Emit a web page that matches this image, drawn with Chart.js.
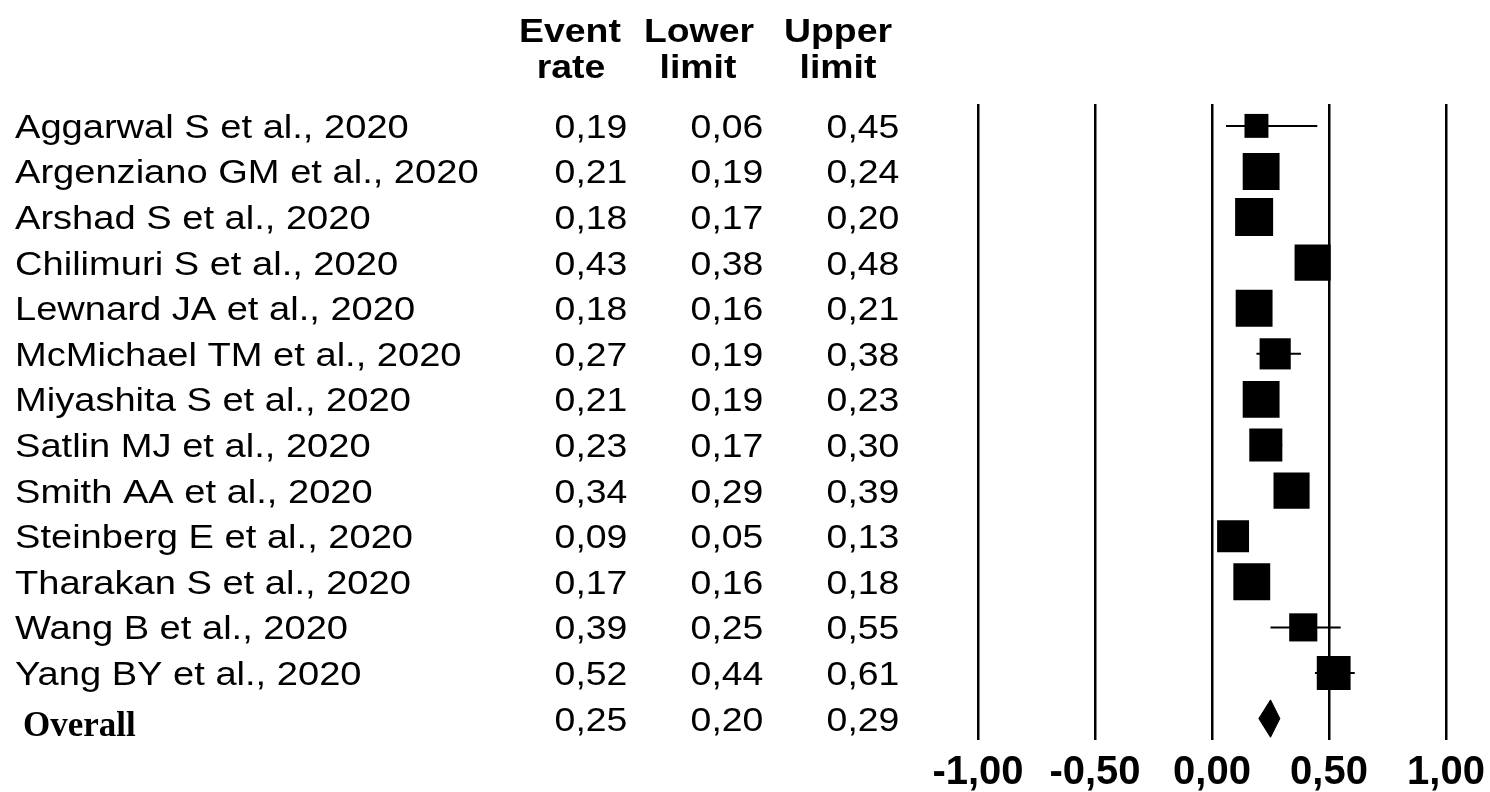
<!DOCTYPE html>
<html>
<head>
<meta charset="utf-8">
<script src="https://cdn.jsdelivr.net/npm/chart.js@4.4.1/dist/chart.umd.min.js"></script>
<style>
  html, body { margin: 0; padding: 0; background: #fff; }
  #wrap { width: 1490px; height: 792px; position: relative; }
</style>
</head>
<body>
<div id="wrap"><canvas id="forest" width="1490" height="792"></canvas></div>
<script>
// studies, in the order of the table
const studies = [
  'Aggarwal S et al., 2020',
  'Argenziano GM et al., 2020',
  'Arshad S et al., 2020',
  'Chilimuri S et al., 2020',
  'Lewnard JA et al., 2020',
  'McMichael TM et al., 2020',
  'Miyashita S et al., 2020',
  'Satlin MJ et al., 2020',
  'Smith AA et al., 2020',
  'Steinberg E et al., 2020',
  'Tharakan S et al., 2020',
  'Wang B et al., 2020',
  'Yang BY et al., 2020'
];
const eventRate  = [0.19, 0.21, 0.18, 0.43, 0.18, 0.27, 0.21, 0.23, 0.34, 0.09, 0.17, 0.39, 0.52];
const lowerLimit = [0.06, 0.19, 0.17, 0.38, 0.16, 0.19, 0.19, 0.17, 0.29, 0.05, 0.16, 0.25, 0.44];
const upperLimit = [0.45, 0.24, 0.20, 0.48, 0.21, 0.38, 0.23, 0.30, 0.39, 0.13, 0.18, 0.55, 0.61];
// relative study weight (box size)
const relWeight  = [0.63, 0.97, 1.00, 0.95, 0.97, 0.82, 0.97, 0.87, 0.95, 0.84, 0.97, 0.74, 0.89];

const overall = { label: 'Overall', rate: 0.25, lower: 0.20, upper: 0.29 };
const xTicks = [-1, -0.5, 0, 0.5, 1];

const fmt = v => v.toFixed(2).replace('.', ',');
const overallRow = studies.length;

// CI whiskers, one little line per study
const ciSets = studies.map((s, i) => ({
  data: [{ x: lowerLimit[i], y: i }, { x: upperLimit[i], y: i }],
  showLine: true,
  borderColor: '#000',
  borderWidth: 2,
  pointRadius: 0
}));

const DIAMOND_H = 0.41;

// text columns drawn next to the plot
const tablePlugin = {
  id: 'table',
  afterDraw(chart) {
    const ctx = chart.ctx;
    const y = chart.scales.y;
    const txt = (s, x, yy, font, align, sx) => {
      ctx.save();
      ctx.font = font;
      ctx.fillStyle = '#000';
      ctx.textAlign = align;
      ctx.textBaseline = 'alphabetic';
      ctx.translate(x, yy);
      ctx.scale(sx, 1);
      ctx.fillText(s, 0, 0);
      ctx.restore();
    };
    const hFont = 'bold 34px "Liberation Sans", Arial, sans-serif';
    txt('Event', 570, 42, hFont, 'center', 1.1);
    txt('Lower', 699, 42, hFont, 'center', 1.1);
    txt('Upper', 838, 42, hFont, 'center', 1.1);
    txt('rate', 571, 78, hFont, 'center', 1.1);
    txt('limit', 698, 78, hFont, 'center', 1.1);
    txt('limit', 838, 78, hFont, 'center', 1.1);

    const rFont = '34px "Liberation Sans", Arial, sans-serif';
    studies.forEach((s, i) => {
      const py = y.getPixelForValue(i) + 12;
      txt(s, 15, py, rFont, 'left', 1.12);
      txt(fmt(eventRate[i]), 591, py, rFont, 'center', 1.1);
      txt(fmt(lowerLimit[i]), 727, py, rFont, 'center', 1.1);
      txt(fmt(upperLimit[i]), 863, py, rFont, 'center', 1.1);
    });
    const oy = y.getPixelForValue(overallRow) + 12;
    txt(overall.label, 23, oy + 5, 'bold 35px "Liberation Serif", "Times New Roman", serif', 'left', 1);
    txt(fmt(overall.rate), 591, oy, rFont, 'center', 1.1);
    txt(fmt(overall.lower), 727, oy, rFont, 'center', 1.1);
    txt(fmt(overall.upper), 863, oy, rFont, 'center', 1.1);
  }
};

new Chart(document.getElementById('forest'), {
  type: 'scatter',
  data: {
    datasets: [
      {
        data: eventRate.map((r, i) => ({ x: r, y: i })),
        pointStyle: 'rect',
        pointRadius: relWeight.map(w => w * 38 / Math.SQRT2),
        pointHoverRadius: relWeight.map(w => w * 38 / Math.SQRT2),
        backgroundColor: '#000',
        borderWidth: 0
      },
      {
        data: [
          { x: overall.lower, y: overallRow },
          { x: overall.rate, y: overallRow - DIAMOND_H },
          { x: overall.upper, y: overallRow },
          { x: overall.rate, y: overallRow + DIAMOND_H },
          { x: overall.lower, y: overallRow }
        ],
        showLine: true,
        fill: 'shape',
        backgroundColor: '#000',
        borderColor: '#000',
        borderWidth: 1,
        pointRadius: 0
      },
      ...ciSets
    ]
  },
  options: {
    responsive: false,
    animation: false,
    events: [],
    layout: { padding: { left: 978, right: 44, top: 104, bottom: 0 } },
    plugins: { legend: { display: false }, tooltip: { enabled: false } },
    scales: {
      x: {
        type: 'linear',
        min: -1,
        max: 1,
        afterBuildTicks: (scale) => { scale.ticks = xTicks.map(v => ({ value: v })); },
        afterFit: (scale) => {
          scale.height = 52;
          scale.paddingLeft = 0;
          scale.paddingRight = 0;
        },
        grid: { color: '#000', lineWidth: 2.5, drawTicks: false },
        border: { display: false },
        ticks: {
          color: '#000',
          padding: 13,
          autoSkip: false,
          maxRotation: 0,
          font: { family: '"Liberation Sans", Arial, sans-serif', size: 40, weight: 'bold', lineHeight: 1 },
          callback: (v) => fmt(v)
        }
      },
      y: {
        type: 'linear',
        display: false,
        reverse: true,
        min: -0.48,
        max: 13.47
      }
    }
  },
  plugins: [tablePlugin]
});
</script>
</body>
</html>
